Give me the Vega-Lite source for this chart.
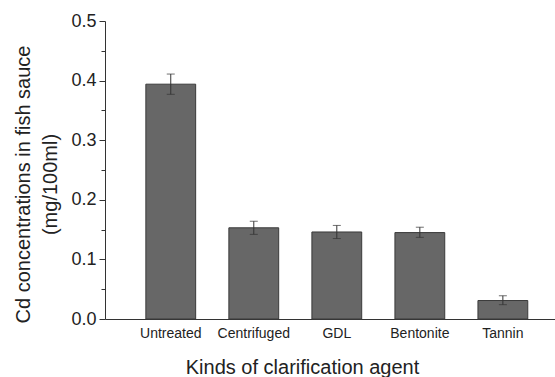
{
  "$schema": "https://vega.github.io/schema/vega-lite/v6.json",
  "width": 450,
  "height": 298,
  "autosize": "none",
  "padding": {"left": 105, "top": 21, "right": 0, "bottom": 58},
  "background": "white",
  "config": {
    "view": {"stroke": null},
    "font": "Liberation Sans",
    "axis": {"grid": false, "domainColor": "#333", "tickColor": "#333", "labelColor": "#222", "titleColor": "#222", "labelFont": "Liberation Sans", "titleFont": "Liberation Sans", "titleFontWeight": "normal"}
  },
  "data": {
    "values": [
      {"agent": "Untreated", "cd": 0.394, "lo": 0.377, "hi": 0.411},
      {"agent": "Centrifuged", "cd": 0.153, "lo": 0.142, "hi": 0.164},
      {"agent": "GDL", "cd": 0.146, "lo": 0.135, "hi": 0.157},
      {"agent": "Bentonite", "cd": 0.145, "lo": 0.137, "hi": 0.154},
      {"agent": "Tannin", "cd": 0.031, "lo": 0.024, "hi": 0.039}
    ]
  },
  "encoding": {
    "x": {
      "field": "agent", "type": "nominal", "sort": null,
      "scale": {"paddingInner": 0.4, "paddingOuter": 0.41, "align": 0.6},
      "axis": {"title": "Kinds of clarification agent", "labelAngle": 0, "ticks": false, "tickSize": 0, "labelPadding": 7, "labelFontSize": 14, "titleFontSize": 20, "titleX": 197, "titleY": 54, "titleBaseline": "alphabetic", "titleAnchor": null, "titleAlign": "center"}
    }
  },
  "layer": [
    {
      "mark": {"type": "bar", "color": "#676767", "stroke": "#3a3a3a", "strokeWidth": 1},
      "encoding": {
        "y": {
          "field": "cd", "type": "quantitative",
          "scale": {"domain": [0, 0.5], "nice": false, "zero": true},
          "axis": {"orient": "left", "values": [0, 0.1, 0.2, 0.3, 0.4, 0.5], "format": ".1f", "tickSize": 6, "labelPadding": 3, "labelFontSize": 18, "title": ["Cd concentrations in fish sauce", "(mg/100ml)"], "titleFontSize": 20, "titleLineHeight": 27, "titleX": -82, "titleY": 163, "titleAngle": -90, "titleAlign": "center", "titleBaseline": "middle", "titleAnchor": null}
        }
      }
    },
    {
      "mark": {"type": "rule", "color": "#333", "strokeWidth": 1},
      "encoding": {
        "y": {"field": "lo", "type": "quantitative", "axis": {"orient": "left", "values": [0.05, 0.15, 0.25, 0.35, 0.45], "labels": false, "tickSize": 4, "domain": false, "title": null}},
        "y2": {"field": "hi"}
      }
    },
    {
      "mark": {"type": "tick", "color": "#333", "size": 8, "thickness": 1},
      "encoding": {"y": {"field": "lo", "type": "quantitative", "axis": null}}
    },
    {
      "mark": {"type": "tick", "color": "#333", "size": 8, "thickness": 1},
      "encoding": {"y": {"field": "hi", "type": "quantitative", "axis": null}}
    }
  ],
  "resolve": {"axis": {"y": "independent"}}
}
